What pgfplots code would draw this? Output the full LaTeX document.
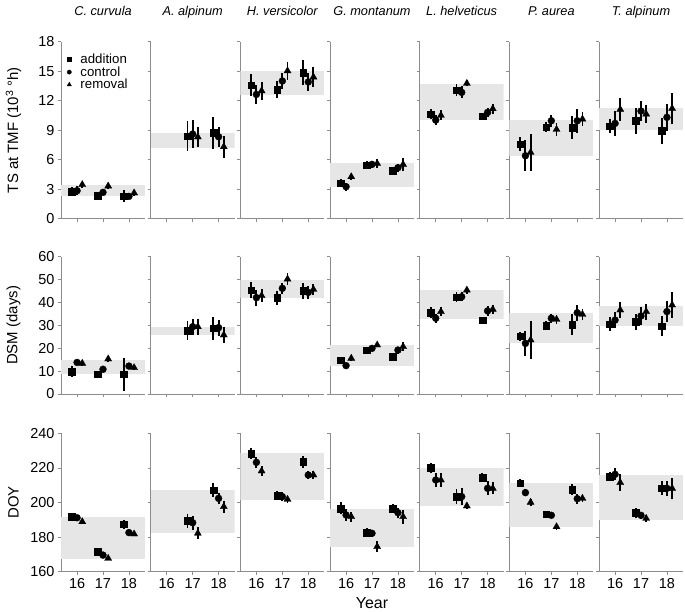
\documentclass[border=0pt]{standalone}
\usepackage{fontspec}
\setmainfont{Liberation Sans}
\usepackage{pgfplots}
\usepackage{pgfplotstable}
\pgfplotsset{compat=1.18}
\definecolor{bandgray}{RGB}{230,230,230}
\definecolor{axgray}{RGB}{140,140,140}

% columns: year, addition (a, ea), control (c, ec), removal (r, er)
% ---- TS at TMF
\pgfplotstableread{
yr a ea c ec r er
16 2.76 0.45 2.83 0.45 3.45 0.3
17 2.35 0.35 2.66 0.3 3.30 0.3
18 2.28 0.6 2.25 0.3 2.60 0.3
}\tsCc
\pgfplotstableread{
yr a ea c ec r er
17 8.39 1.5 8.60 1.4 8.30 1.0
18 8.73 1.65 8.32 1.0 7.30 1.1
}\tsAa
\pgfplotstableread{
yr a ea c ec r er
16 13.58 1.1 12.63 1.0 13.00 0.9
17 13.14 0.9 14.00 0.8 15.03 0.9
18 14.87 1.3 13.90 0.9 14.40 1.0
}\tsHv
\pgfplotstableread{
yr a ea c ec r er
16 3.58 0.4 3.24 0.4 4.25 0.3
17 5.44 0.4 5.51 0.35 5.60 0.5
18 4.86 0.4 5.17 0.4 5.50 0.7
}\tsGm
\pgfplotstableread{
yr a ea c ec r er
16 10.63 0.5 10.02 0.5 10.50 0.5
17 13.07 0.6 12.84 0.6 13.75 0.3
18 10.43 0.35 10.80 0.5 11.17 0.5
}\tsLh
\pgfplotstableread{
yr a ea c ec r er
16 7.55 0.7 6.39 1.6 6.73 1.9
17 9.31 0.5 9.95 0.6 9.07 0.7
18 9.28 1.2 9.95 1.2 10.12 0.7
}\tsPa
\pgfplotstableread{
yr a ea c ec r er
16 9.41 0.7 9.68 1.3 11.10 1.2
17 9.95 1.3 10.94 1.0 10.63 0.9
18 8.93 1.3 10.30 1.4 11.20 1.6
}\tsTa
% ---- DSM
\pgfplotstableread{
yr a ea c ec r er
16 9.8 2.3 13.8 1.0 13.4 1.0
17 8.7 1.0 10.8 1.0 15.3 1.2
18 8.6 7.2 12.2 1.0 11.5 1.0
}\dsmCc
\pgfplotstableread{
yr a ea c ec r er
17 27.7 4.3 29.4 3.5 29.4 3.5
18 28.7 5.0 29.0 3.5 25.8 3.5
}\dsmAa
\pgfplotstableread{
yr a ea c ec r er
16 45.4 3.5 42.1 3.5 43.0 3.0
17 42.1 3.0 46.2 2.5 50.2 2.5
18 45.1 3.5 44.4 3.0 45.7 2.5
}\dsmHv
\pgfplotstableread{
yr a ea c ec r er
16 14.85 1.5 12.4 1.3 15.6 1.0
17 19.2 1.2 19.95 1.0 21.4 1.0
18 16.3 1.2 19.2 1.5 20.7 2.0
}\dsmGm
\pgfplotstableread{
yr a ea c ec r er
16 35.5 2.5 33.1 2.0 36.0 2.0
17 42.4 2.0 42.5 2.0 45.4 1.5
18 32.3 1.5 36.3 2.0 37.0 2.0
}\dsmLh
\pgfplotstableread{
yr a ea c ec r er
16 25.3 2.0 22.1 5.6 23.6 8.4
17 29.9 2.0 33.1 2.0 32.6 2.0
18 30.4 4.4 35.5 3.5 34.8 2.5
}\dsmPa
\pgfplotstableread{
yr a ea c ec r er
16 30.6 3.0 32.3 3.5 36.7 3.5
17 31.5 3.5 34.1 4.0 36.0 3.5
18 29.7 4.5 36.0 4.5 38.9 5.5
}\dsmTa
% ---- DOY
\pgfplotstableread{
yr a ea c ec r er
16 191.8 1.0 191.2 1.0 188.9 1.0
17 171.6 1.0 169.6 1.0 167.7 1.0
18 187.4 2.5 182.6 1.0 181.8 1.0
}\doyCc
\pgfplotstableread{
yr a ea c ec r er
17 189.5 4.0 188.3 4.0 182.2 3.5
18 207.2 4.0 202.4 3.0 197.6 3.5
}\doyAa
\pgfplotstableread{
yr a ea c ec r er
16 228.4 3.0 223.2 3.0 218.2 3.0
17 204.0 2.5 203.4 2.5 201.8 2.0
18 223.6 3.5 215.9 2.5 215.9 2.5
}\doyHv
\pgfplotstableread{
yr a ea c ec r er
16 196.6 3.5 192.8 3.5 191.8 3.0
17 182.6 2.5 182.2 2.0 174.5 3.0
18 196.6 2.5 194.1 3.0 191.8 4.0
}\doyGm
\pgfplotstableread{
yr a ea c ec r er
16 220.1 3.0 213.0 4.0 213.0 4.0
17 203.4 4.5 203.4 5.0 198.0 2.0
18 214.4 2.5 208.2 4.0 208.2 3.5
}\doyLh
\pgfplotstableread{
yr a ea c ec r er
16 211.3 2.0 205.7 2.0 200.1 2.0
17 193.2 1.0 192.6 1.0 186.0 2.0
18 207.6 3.0 202.2 3.0 202.4 2.0
}\doyPa
\pgfplotstableread{
yr a ea c ec r er
16 214.9 2.5 216.3 3.5 211.5 5.0
17 194.1 3.0 192.6 2.0 190.8 2.0
18 208.2 4.0 208.2 4.5 208.2 6.0
}\doyTa

\pgfplotsset{
  panel/.style={
    scale only axis, width=84bp, anchor=north west,
    xmin=15.38, xmax=18.62, xtick={16,17,18},
    axis x line*=bottom, axis y line*=left,
    tick align=outside, major tick length=3bp,
    axis line style={axgray, line width=0.8bp},
    every tick/.style={axgray, line width=0.8bp},
    tick label style={font=\fontsize{14.5}{16}\selectfont, black},
    /pgf/number format/assume math mode=true,
    xticklabels={}, yticklabels={},
    title style={at={(axis description cs:0.5,1)}, anchor=base, yshift=20bp,
      font=\itshape\fontsize{12.8}{14}\selectfont},
    ylabel style={at={(axis description cs:-0.565,0.5)}, anchor=center,
      font=\fontsize{15}{17}\selectfont},
  },
  rowTS/.style={ymin=0, ymax=18, ytick={0,3,...,18}, height=176.8bp},
  rowDSM/.style={ymin=0, ymax=60, ytick={0,10,...,60}, height=137.3bp},
  rowDOY/.style={ymin=160, ymax=240, ytick={160,180,...,240}, height=138.4bp,
    xticklabels={16,17,18}},
  first/.style={yticklabel={\pgfmathprintnumber{\tick}}},
  band/.style={fill=bandgray, draw=none, forget plot},
  pt/.style={only marks, black, line width=1.9bp,
    mark options={fill=black, line width=0.3bp},
    error bars/y dir=both, error bars/y explicit, error bars/error mark=none,
    error bars/error bar style={line width=1.9bp, black}},
  add/.style={pt, mark=square*, mark size=3.3bp},
  ctl/.style={pt, mark=*, mark size=3.5bp},
  rem/.style={pt, mark=triangle*, mark size=4.1bp},
}

% #1 column, #2 top of the axis, #3 row style, #4 table, #5/#6 band, #7 extra
\newcommand{\panel}[7]{%
  \begin{axis}[panel, #3, at={({61bp+89.667bp*#1},{-#2bp})}, #7]
    \addplot[band] coordinates {(15.38,#5) (18.62,#5) (18.62,#6) (15.38,#6)} -- cycle;
    \addplot[add] table[x expr=\thisrow{yr}-0.2, y=a, y error=ea] {#4};
    \addplot[ctl] table[x=yr, y=c, y error=ec] {#4};
    \addplot[rem] table[x expr=\thisrow{yr}+0.2, y=r, y error=er] {#4};
  \end{axis}}

\begin{document}
\begin{tikzpicture}
\path[use as bounding box] (0,0) rectangle (685bp,-612bp);

\panel{0}{41.7}{rowTS}{\tsCc}{2.25}{3.37}{first, title={C. curvula},
  ylabel={TS at TMF (10\textsuperscript{3} °h)},
  legend entries={addition,control,removal},
  legend cell align=left,
  legend image post style={mark options={scale=0.62, fill=black, line width=0.3bp}},
  legend style={at={(axis description cs:0.07,0.943)}, anchor=north west,
    draw=none, fill=none, font=\fontsize{13.3}{13}\selectfont,
    row sep=-2.5bp, column sep=7bp, inner sep=0pt}}
\panel{1}{41.7}{rowTS}{\tsAa}{7.2}{8.73}{title={A. alpinum}}
\panel{2}{41.7}{rowTS}{\tsHv}{12.6}{15.0}{title={H. versicolor}}
\panel{3}{41.7}{rowTS}{\tsGm}{3.24}{5.6}{title={G. montanum}}
\panel{4}{41.7}{rowTS}{\tsLh}{10.0}{13.65}{title={L. helveticus}}
\panel{5}{41.7}{rowTS}{\tsPa}{6.4}{10.0}{title={P. aurea}}
\panel{6}{41.7}{rowTS}{\tsTa}{9.0}{11.27}{title={T. alpinum}}

\panel{0}{256.7}{rowDSM}{\dsmCc}{8.6}{14.9}{first, ylabel={DSM (days)}}
\panel{1}{256.7}{rowDSM}{\dsmAa}{25.8}{29.4}{}
\panel{2}{256.7}{rowDSM}{\dsmHv}{42.1}{49.8}{}
\panel{3}{256.7}{rowDSM}{\dsmGm}{12.4}{21.4}{}
\panel{4}{256.7}{rowDSM}{\dsmLh}{32.6}{45.4}{}
\panel{5}{256.7}{rowDSM}{\dsmPa}{22.4}{35.5}{}
\panel{6}{256.7}{rowDSM}{\dsmTa}{29.7}{38.4}{}

\panel{0}{433.3}{rowDOY}{\doyCc}{167.5}{191.8}{first, ylabel={DOY}}
\panel{1}{433.3}{rowDOY}{\doyAa}{182.2}{207.2}{}
\panel{2}{433.3}{rowDOY}{\doyHv}{201.4}{228.4}{}
\panel{3}{433.3}{rowDOY}{\doyGm}{174.1}{196.4}{xlabel={Year},
  xlabel style={at={(axis description cs:0.5,0)}, anchor=base, yshift=-36.5bp,
    font=\fontsize{16}{18}\selectfont}}
\panel{4}{433.3}{rowDOY}{\doyLh}{198.0}{220.1}{}
\panel{5}{433.3}{rowDOY}{\doyPa}{185.6}{211.3}{}
\panel{6}{433.3}{rowDOY}{\doyTa}{189.9}{215.9}{}
\end{tikzpicture}
\end{document}
